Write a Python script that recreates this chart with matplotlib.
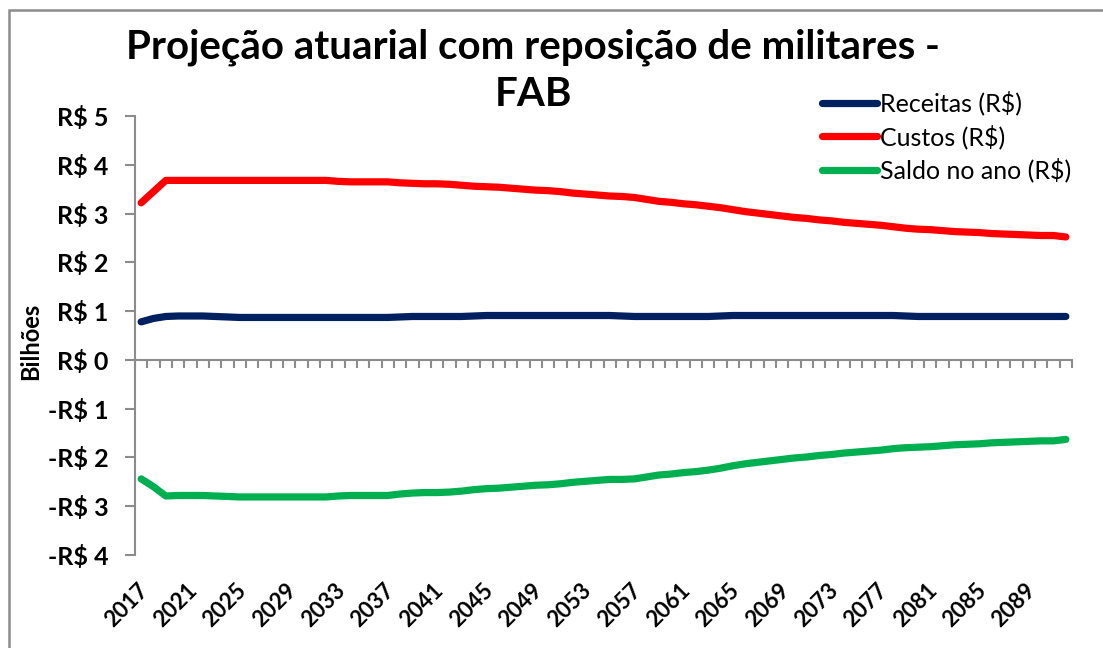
import matplotlib
matplotlib.use("Agg")
import matplotlib.pyplot as plt
import matplotlib.patches as mpatches
import matplotlib.transforms as mtransforms
from matplotlib.ticker import FixedLocator, FuncFormatter

plt.rcParams['font.family'] = ['Lato', 'DejaVu Sans']

years = list(range(2017, 2093))

receitas = [0.78, 0.85, 0.89, 0.90, 0.90, 0.90, 0.89, 0.88,
            0.87, 0.87, 0.87, 0.87, 0.87, 0.87, 0.87, 0.87, 0.87, 0.87, 0.87, 0.87, 0.87,
            0.88,
            0.89, 0.89, 0.89, 0.89, 0.89,
            0.90,
            0.91, 0.91, 0.91, 0.91, 0.91, 0.91, 0.91, 0.91, 0.91, 0.91, 0.91,
            0.90,
            0.89, 0.89, 0.89, 0.89, 0.89, 0.89, 0.89,
            0.90,
            0.91, 0.91, 0.91, 0.91, 0.91, 0.91, 0.91, 0.91, 0.91, 0.91, 0.91, 0.91, 0.91, 0.91,
            0.90,
            0.89, 0.89, 0.89, 0.89, 0.89, 0.89, 0.89, 0.89, 0.89, 0.89, 0.89, 0.89, 0.89]

custos = [3.22, 3.45, 3.68, 3.68, 3.68, 3.68, 3.68, 3.68, 3.68, 3.68,
          3.68, 3.68, 3.68, 3.68, 3.68, 3.68, 3.66, 3.65, 3.65, 3.65,
          3.65, 3.63, 3.62, 3.61, 3.61, 3.60, 3.58, 3.56, 3.55, 3.54,
          3.52, 3.50, 3.48, 3.47, 3.45, 3.42, 3.40, 3.38, 3.36, 3.35,
          3.33, 3.29, 3.25, 3.23, 3.20, 3.18, 3.15, 3.12, 3.08, 3.04,
          3.01, 2.98, 2.95, 2.92, 2.90, 2.87, 2.85, 2.82, 2.80, 2.78,
          2.76, 2.73, 2.70, 2.68, 2.67, 2.65, 2.63, 2.62, 2.61, 2.59,
          2.58, 2.57, 2.56, 2.55, 2.55, 2.52]

saldo = [-2.44, -2.60, -2.79, -2.78, -2.78, -2.78, -2.79, -2.80,
         -2.81, -2.81, -2.81, -2.81, -2.81, -2.81, -2.81, -2.81,
         -2.79, -2.78, -2.78, -2.78, -2.78,
         -2.75, -2.73, -2.72, -2.72, -2.71, -2.69, -2.66, -2.64, -2.63, -2.61,
         -2.59, -2.57, -2.56, -2.54, -2.51, -2.49, -2.47, -2.45, -2.45, -2.44,
         -2.40, -2.36, -2.34, -2.31, -2.29, -2.26, -2.22, -2.17, -2.13, -2.10,
         -2.07, -2.04, -2.01, -1.99, -1.96, -1.94, -1.91, -1.89, -1.87, -1.85,
         -1.82, -1.80, -1.79, -1.78, -1.76, -1.74, -1.73, -1.72, -1.70, -1.69,
         -1.68, -1.67, -1.66, -1.66, -1.63]

series_names = ['Receitas (R$)', 'Custos (R$)', 'Saldo no ano (R$)']
series_colors = ['#002060', '#FF0000', '#00B050']
title_lines = ['Projeção atuarial com reposição de militares -', 'FAB']
y_label = 'Bilhões'
y_ticks = [5, 4, 3, 2, 1, 0, -1, -2, -3, -4]

W, H = 1103, 648
fig = plt.figure(figsize=(W / 100, H / 100), dpi=100)
fig.patch.set_facecolor('white')

# outer chart border (left and top visible)
border = mpatches.Rectangle((9 / W, -0.2), 2.0, 1.2 - 10 / H, transform=fig.transFigure,
                            fill=False, edgecolor='#8c8c8c', linewidth=1.8)
fig.patches.append(border)

ax = fig.add_axes([135 / W, 1 - 555 / H, (1072 - 135) / W, (555 - 116) / H])
x = list(range(len(years)))
for vals, name, col in zip([receitas, custos, saldo], series_names, series_colors):
    ax.plot(x, vals, color=col, linewidth=5.2, solid_capstyle='round',
            solid_joinstyle='round', label=name)

ax.set_xlim(-0.5, len(years) - 0.5)
ax.set_ylim(-4, 5)

grey = '#8c8c8c'
for s in ['top', 'right']:
    ax.spines[s].set_visible(False)
ax.spines['left'].set_color(grey)
ax.spines['left'].set_linewidth(1.5)
ax.spines['bottom'].set_position(('data', 0))
ax.spines['bottom'].set_color(grey)
ax.spines['bottom'].set_linewidth(1.5)

ax.yaxis.set_major_locator(FixedLocator(y_ticks))
ax.yaxis.set_major_formatter(FuncFormatter(
    lambda v, p: ('-R$ %d' % abs(v)) if v < 0 else ('R$ %d' % v)))
ax.tick_params(axis='y', direction='out', length=7, width=1.5, color=grey,
               pad=12, labelsize=18)
for lab in ax.get_yticklabels():
    lab.set_fontweight('bold')

ax.xaxis.set_major_locator(FixedLocator([i - 0.5 for i in range(len(years) + 1)]))
ax.xaxis.set_major_formatter(FuncFormatter(lambda v, p: ''))
ax.tick_params(axis='x', direction='out', length=6, width=1.5, color=grey)

trans = mtransforms.blended_transform_factory(ax.transData, ax.transAxes)
offset = mtransforms.ScaledTranslation(-3 / 72, -18 / 72, fig.dpi_scale_trans)
for i, yr in enumerate(years):
    if i % 4 == 0:
        ax.text(i, 0, str(yr), transform=trans + offset, rotation=45,
                rotation_mode='anchor', ha='right', va='top',
                fontsize=16, fontweight='bold')

ax.set_ylabel(y_label, fontsize=17, fontweight='bold', labelpad=6)
ax.yaxis.set_label_coords(-0.099, 0.487)

fig.text(533 / W, 1 - 59 / H, title_lines[0], ha='center', va='baseline',
         fontsize=29, fontweight='bold')
fig.text(533 / W, 1 - 106 / H, title_lines[1], ha='center', va='baseline',
         fontsize=29, fontweight='bold')

leg = ax.legend(loc='upper left', bbox_to_anchor=(812 / W, 1 - 81 / H),
                bbox_transform=fig.transFigure, frameon=False, fontsize=18,
                handlelength=2.2, handletextpad=0.12, labelspacing=0.35,
                borderaxespad=0)

fig.savefig('out.png', dpi=100, facecolor='white')
